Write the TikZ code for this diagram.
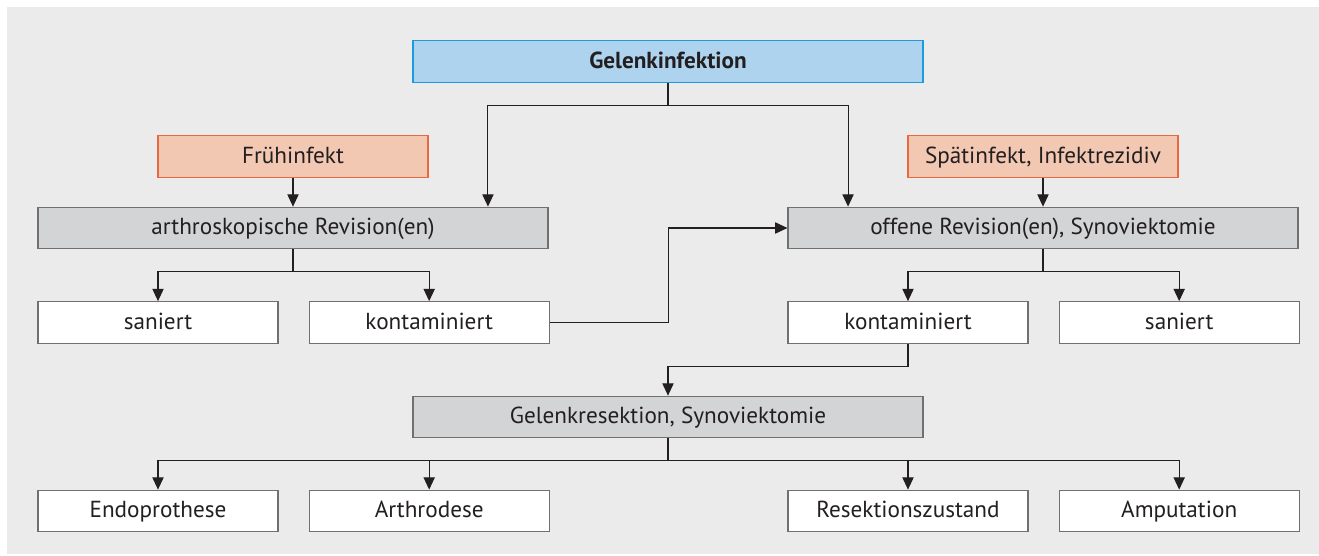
\documentclass[tikz,border=0pt]{standalone}
\usepackage{fontspec}
\setmainfont{PT Sans}
\usepackage{xcolor}
\usepackage{tikz}
\usetikzlibrary{positioning,arrows.meta}
\definecolor{panelgrey}{HTML}{EAEBEA}
\definecolor{headblue}{HTML}{AED3EF}
\definecolor{headedge}{HTML}{1E9BDC}
\definecolor{infpeach}{HTML}{F2C8B2}
\definecolor{infedge}{HTML}{E8693F}
\definecolor{revgrey}{HTML}{D3D4D6}
\definecolor{boxedge}{HTML}{707070}
\definecolor{inkdark}{HTML}{231F20}

\begin{document}
\begin{tikzpicture}[
    x=0.02cm, y=-0.02cm,
    >={Triangle[width=6.4pt,length=7pt]},
    box/.style={draw, minimum height=0.83cm, inner sep=0pt,
                text height=0.95em, text depth=0.2em,
                font=\fontsize{13.2}{15}\selectfont, text=inkdark,
                line width=0.7pt},
    headbox/.style={box, fill=headblue, draw=headedge,
                    minimum width=10.2cm, font=\fontsize{13.2}{15}\selectfont\bfseries},
    infbox/.style={box, fill=infpeach, draw=infedge, minimum width=5.4cm},
    revbox/.style={box, fill=revgrey, draw=boxedge, minimum width=10.2cm},
    endbox/.style={box, fill=white, draw=boxedge, minimum width=4.8cm},
    arrow/.style={->, line width=0.6pt, color=inkdark},
]

% canvas
\useasboundingbox (0,0) rectangle (1319,555);
\fill[panelgrey] (7,7) rectangle (1319,554);

% top
\node[headbox] (infekt) at (668,61.5) {Gelenkinfektion};

% infection type
\node[infbox] (frueh) at (293,156.5) {Frühinfekt};
\node[infbox] (spaet) at (1043,156.5) {Spätinfekt, Infektrezidiv};

% revisions
\node[revbox] (arthro) at (293,228) {arthroskopische Revision(en)};
\node[revbox] (offen) at (1043,228) {offene Revision(en), Synoviektomie};

% outcome of revisions
\node[endbox] (sanL) at (158,322.5) {saniert};
\node[endbox, right=0.6cm of sanL] (kontL) {kontaminiert};
\node[endbox] (kontR) at (908,322.5) {kontaminiert};
\node[endbox, right=0.6cm of kontR] (sanR) {saniert};

% resection
\node[revbox] (resekt) at (668,417) {Gelenkresektion, Synoviektomie};

% final states
\node[endbox] (endo) at (158,511) {Endoprothese};
\node[endbox, right=0.6cm of endo] (arthrod) {Arthrodese};
\node[endbox] (reszust) at (908,511) {Resektionszustand};
\node[endbox, right=0.6cm of reszust] (amput) {Amputation};

% connectors
\draw[arrow] (infekt.south) -- ++(0,23) -| ([xshift=3.9cm]arthro.north);
\draw[arrow] (infekt.south) -- ++(0,23) -| ([xshift=-3.9cm]offen.north);
\draw[arrow] (frueh) -- (arthro);
\draw[arrow] (spaet) -- (offen);

\draw[arrow] (arthro.south) -- ++(0,22) -| (sanL.north);
\draw[arrow] (arthro.south) -- ++(0,22) -| (kontL.north);
\draw[arrow] (offen.south) -- ++(0,22) -| (kontR.north);
\draw[arrow] (offen.south) -- ++(0,22) -| (sanR.north);

\draw[arrow] (kontL.east) -- ++(119,0) |- (offen.west);
\draw[arrow] (kontR.south) -- ++(0,23) -| (resekt.north);

\foreach \target in {endo,arthrod,reszust,amput}
    \draw[arrow] (resekt.south) -- ++(0,22) -| (\target.north);

\end{tikzpicture}
\end{document}
